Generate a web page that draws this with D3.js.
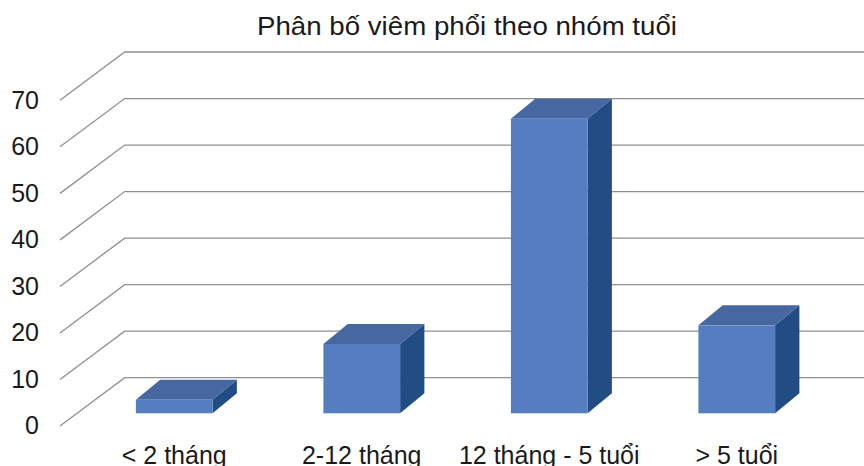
<!DOCTYPE html>
<html>
<head>
<meta charset="utf-8">
<script src="https://cdn.jsdelivr.net/npm/d3@7"></script>
<style>
  html, body { margin: 0; padding: 0; background: #fff; }
  svg { display: block; }
  text { font-family: "Liberation Sans", Arial, sans-serif; fill: #1a1a1a; }
</style>
</head>
<body>
<script>
// Chart data
const title = "Phân bố viêm phổi theo nhóm tuổi";
const categories = ["< 2 tháng", "2-12 tháng", "12 tháng - 5 tuổi", "> 5 tuổi"];
const values = [2.9, 14.9, 63.3, 18.9];
const yTicks = [0, 10, 20, 30, 40, 50, 60, 70];

const W = 864, H = 466;
const svg = d3.select("body").append("svg").attr("width", W).attr("height", H);

// Oblique 3D layout: front wall edge, back wall offset
const frontX = 60;
const wallDepth = { dx: 64.7, dy: -48.3 };
const y = d3.scaleLinear().domain([0, 70]).range([426, 100.3]);

// Bars sit a little behind the front edge and have their own depth
const barOffset = { dx: 17, dy: -12.7 };
const barDepth = { dx: 24.3, dy: -20 };
const x = d3.scaleBand().domain(categories).range([80.5, 830.5]).paddingInner(0);
const barW = 76.7;

// Gridlines: diagonal on the side wall, then across the back wall
const grid = svg.append("g");
yTicks.forEach(v => {
  const y0 = y(v);
  const bx = frontX + wallDepth.dx, by = y0 + wallDepth.dy;
  grid.append("path")
    .attr("d", `M${frontX},${y0}L${bx},${by}L${W},${by}`)
    .attr("fill", "none")
    .attr("stroke", "#8f8f8f")
    .attr("stroke-width", 1.3);
});

// Y axis labels
svg.append("g").selectAll("text").data(yTicks).join("text")
  .attr("x", 39)
  .attr("y", d => y(d))
  .attr("dy", "0.33em")
  .attr("text-anchor", "end")
  .attr("font-size", 25)
  .text(d => d);

// Bars
const bars = svg.append("g").selectAll("g").data(categories).join("g");
bars.each(function(c, i) {
  const g = d3.select(this);
  const cx = x(c) + x.bandwidth() / 2;
  const x0 = cx - barW / 2, x1 = cx + barW / 2;
  const yb = y(0) + barOffset.dy;
  const yt = y(values[i]) + barOffset.dy;
  const ddx = barDepth.dx, ddy = barDepth.dy;
  // right side
  g.append("path")
    .attr("d", `M${x1},${yt}L${x1 + ddx},${yt + ddy}L${x1 + ddx},${yb + ddy}L${x1},${yb}Z`)
    .attr("fill", "#214d84");
  // top
  g.append("path")
    .attr("d", `M${x0},${yt}L${x0 + ddx},${yt + ddy}L${x1 + ddx},${yt + ddy}L${x1},${yt}Z`)
    .attr("fill", "#4767a1");
  // front
  g.append("rect")
    .attr("x", x0).attr("y", yt)
    .attr("width", barW).attr("height", yb - yt)
    .attr("fill", "#557ec0");
});

// Category labels
svg.append("g").selectAll("text").data(categories).join("text")
  .attr("x", d => x(d) + x.bandwidth() / 2)
  .attr("y", 463.5)
  .attr("text-anchor", "middle")
  .attr("font-size", 25)
  .text(d => d);

// Title
svg.append("text")
  .attr("x", 467)
  .attr("y", 35)
  .attr("text-anchor", "middle")
  .attr("font-size", 26)
  .attr("textLength", 420)
  .attr("lengthAdjust", "spacingAndGlyphs")
  .text(title);
</script>
</body>
</html>
